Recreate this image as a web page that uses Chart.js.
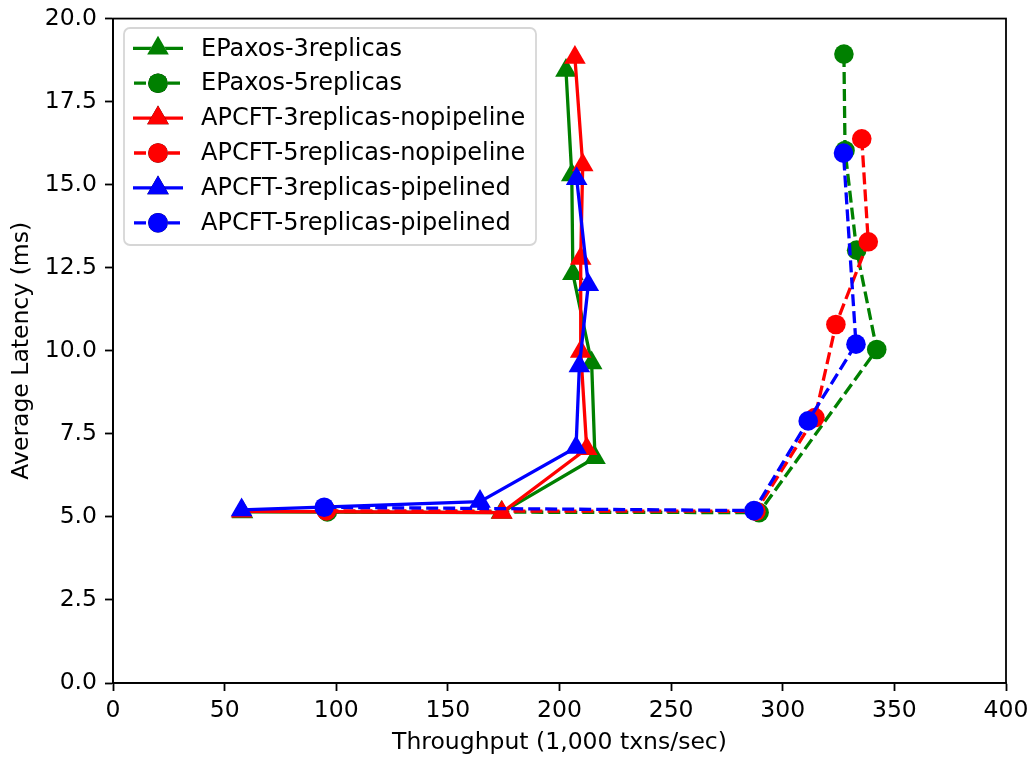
<!DOCTYPE html>
<html>
<head>
<meta charset="utf-8">
<script src="https://cdn.jsdelivr.net/npm/chart.js@4.4.0/dist/chart.umd.min.js"></script>
<style>
  html, body { margin: 0; padding: 0; background: #fff; }
  #wrap { width: 1032px; height: 757px; }
</style>
</head>
<body>
<div id="wrap"><canvas id="chart" width="1032" height="757"></canvas></div>
<script>
// ===== data =====
const seriesNames = [
  'EPaxos-3replicas',
  'EPaxos-5replicas',
  'APCFT-3replicas-nopipeline',
  'APCFT-5replicas-nopipeline',
  'APCFT-3replicas-pipelined',
  'APCFT-5replicas-pipelined'
];

// throughput (1,000 txns/sec) / average latency (ms)
const epaxos3X = [58, 174, 215.9, 214.4, 206.0, 205.5, 202.9];
const epaxos3Y = [5.15, 5.13, 6.78, 9.63, 12.32, 15.29, 18.44];

const epaxos5X = [96, 289.4, 342.1, 333.1, 327.9, 327.4];
const epaxos5Y = [5.15, 5.13, 10.04, 13.03, 16.03, 18.93];

const apcft3npX = [57.6, 174.2, 212.2, 209.5, 209.5, 210.4, 206.9];
const apcft3npY = [5.17, 5.13, 7.05, 9.98, 12.78, 15.59, 18.83];

const apcft5npX = [95.6, 288, 314.4, 323.8, 338.3, 335.4];
const apcft5npY = [5.18, 5.17, 7.99, 10.79, 13.28, 16.38];

const apcft3plX = [57.6, 164.4, 207.4, 208.9, 212.9, 207.7];
const apcft3plY = [5.21, 5.46, 7.09, 9.54, 11.99, 15.18];

const apcft5plX = [94.6, 287.1, 311.4, 332.8, 327.2];
const apcft5plY = [5.29, 5.19, 7.89, 10.2, 15.95];

const xTickStep = 50;
const yTickStep = 2.5;

// ===== styling =====
const GREEN = '#008000', RED = '#ff0000', BLUE = '#0000ff';
const FONT = '"DejaVu Sans", sans-serif';
const FONT_SIZE = 23.5;
const DASH = [12, 5];
const LINE_W = 3.3;

const pts = (xs, ys) => xs.map((x, i) => ({ x, y: ys[i] }));

const styles = [
  { color: GREEN, marker: 'triangle', dashed: false },
  { color: GREEN, marker: 'circle', dashed: true },
  { color: RED, marker: 'triangle', dashed: false },
  { color: RED, marker: 'circle', dashed: true },
  { color: BLUE, marker: 'triangle', dashed: false },
  { color: BLUE, marker: 'circle', dashed: true }
];
const seriesData = [
  pts(epaxos3X, epaxos3Y),
  pts(epaxos5X, epaxos5Y),
  pts(apcft3npX, apcft3npY),
  pts(apcft5npX, apcft5npY),
  pts(apcft3plX, apcft3plY),
  pts(apcft5plX, apcft5plY)
];

const markerRadius = m => (m === 'triangle' ? 12.5 : 9.8);

const datasets = seriesNames.map((name, i) => {
  const s = styles[i];
  return {
    label: name,
    data: seriesData[i],
    showLine: true,
    borderColor: s.color,
    backgroundColor: s.color,
    borderWidth: LINE_W,
    borderDash: s.dashed ? DASH : [],
    pointStyle: s.marker,
    pointRadius: markerRadius(s.marker),
    pointBorderWidth: 0,
    pointBackgroundColor: s.color,
    order: seriesNames.length - i,
    tension: 0
  };
});

// draw the point marker the same way chart.js does
function drawMarker(ctx, style, x, y, color) {
  Chart.helpers.drawPoint(ctx, {
    pointStyle: style,
    radius: markerRadius(style),
    rotation: 0,
    borderWidth: 0
  }, x, y);
  ctx.fillStyle = color;
  ctx.fill();
}

// frame round the axes + legend box in the upper left
const framePlugin = {
  id: 'frameAndLegend',
  afterDraw(chart) {
    const { ctx, chartArea: a } = chart;
    ctx.save();
    ctx.strokeStyle = '#000';
    ctx.lineWidth = 1.8;
    ctx.strokeRect(a.left, a.top, a.right - a.left, a.bottom - a.top);

    // legend
    const bx = 124, by = 28, bw = 412, bh = 217, r = 6;
    ctx.beginPath();
    ctx.moveTo(bx + r, by);
    ctx.arcTo(bx + bw, by, bx + bw, by + bh, r);
    ctx.arcTo(bx + bw, by + bh, bx, by + bh, r);
    ctx.arcTo(bx, by + bh, bx, by, r);
    ctx.arcTo(bx, by, bx + bw, by, r);
    ctx.closePath();
    ctx.fillStyle = 'rgba(255,255,255,0.8)';
    ctx.fill();
    ctx.strokeStyle = 'rgba(204,204,204,0.8)';
    ctx.lineWidth = 1.8;
    ctx.stroke();

    const rowH = 34.9;
    seriesNames.forEach((name, i) => {
      const s = styles[i];
      const cy = 48.3 + i * rowH;
      ctx.beginPath();
      ctx.setLineDash(s.dashed ? DASH : []);
      ctx.strokeStyle = s.color;
      ctx.lineWidth = LINE_W;
      if (s.dashed) {
        ctx.moveTo(134, cy); ctx.lineTo(182, cy);
      } else {
        ctx.moveTo(133, cy); ctx.lineTo(183, cy);
      }
      ctx.stroke();
      ctx.setLineDash([]);
      drawMarker(ctx, s.marker, 158, cy, s.color);
      ctx.fillStyle = '#000';
      ctx.font = '24px ' + FONT;
      ctx.textBaseline = 'middle';
      ctx.textAlign = 'left';
      ctx.fillText(name, 201, cy + 1);
    });
    ctx.restore();
  }
};

const tickFont = { family: FONT, size: FONT_SIZE };

new Chart(document.getElementById('chart'), {
  type: 'scatter',
  data: { datasets },
  options: {
    responsive: false,
    animation: false,
    layout: { padding: { top: 16, right: 26, left: 0, bottom: 0 } },
    plugins: { legend: { display: false }, tooltip: { enabled: false } },
    scales: {
      x: {
        type: 'linear',
        min: 0, max: 400,
        afterFit(scale) {
          scale.height = 74;
          scale.paddingLeft = 0;
          scale.paddingRight = 0;
        },
        ticks: { stepSize: xTickStep, color: '#000', font: tickFont, padding: 6, maxRotation: 0 },
        grid: { display: true, drawOnChartArea: false, drawTicks: true, tickLength: 8, tickWidth: 1.8, tickColor: '#000' },
        border: { display: true, color: '#000', width: 1.8 },
        title: { display: true, text: 'Throughput (1,000 txns/sec)', color: '#000', font: tickFont, padding: { top: 2, bottom: 0 } }
      },
      y: {
        type: 'linear',
        min: 0, max: 20,
        afterFit(scale) { scale.width = 113; },
        ticks: {
          stepSize: yTickStep, color: '#000', font: { family: FONT, size: FONT_SIZE, lineHeight: 0.9 }, padding: 8,
          callback: v => v.toFixed(1)
        },
        grid: { display: true, drawOnChartArea: false, drawTicks: true, tickLength: 8, tickWidth: 1.8, tickColor: '#000' },
        border: { display: true, color: '#000', width: 1.8 },
        title: { display: true, text: 'Average Latency (ms)', color: '#000', font: tickFont, padding: { top: 8, bottom: 0 } }
      }
    }
  },
  plugins: [framePlugin]
});
</script>
</body>
</html>
